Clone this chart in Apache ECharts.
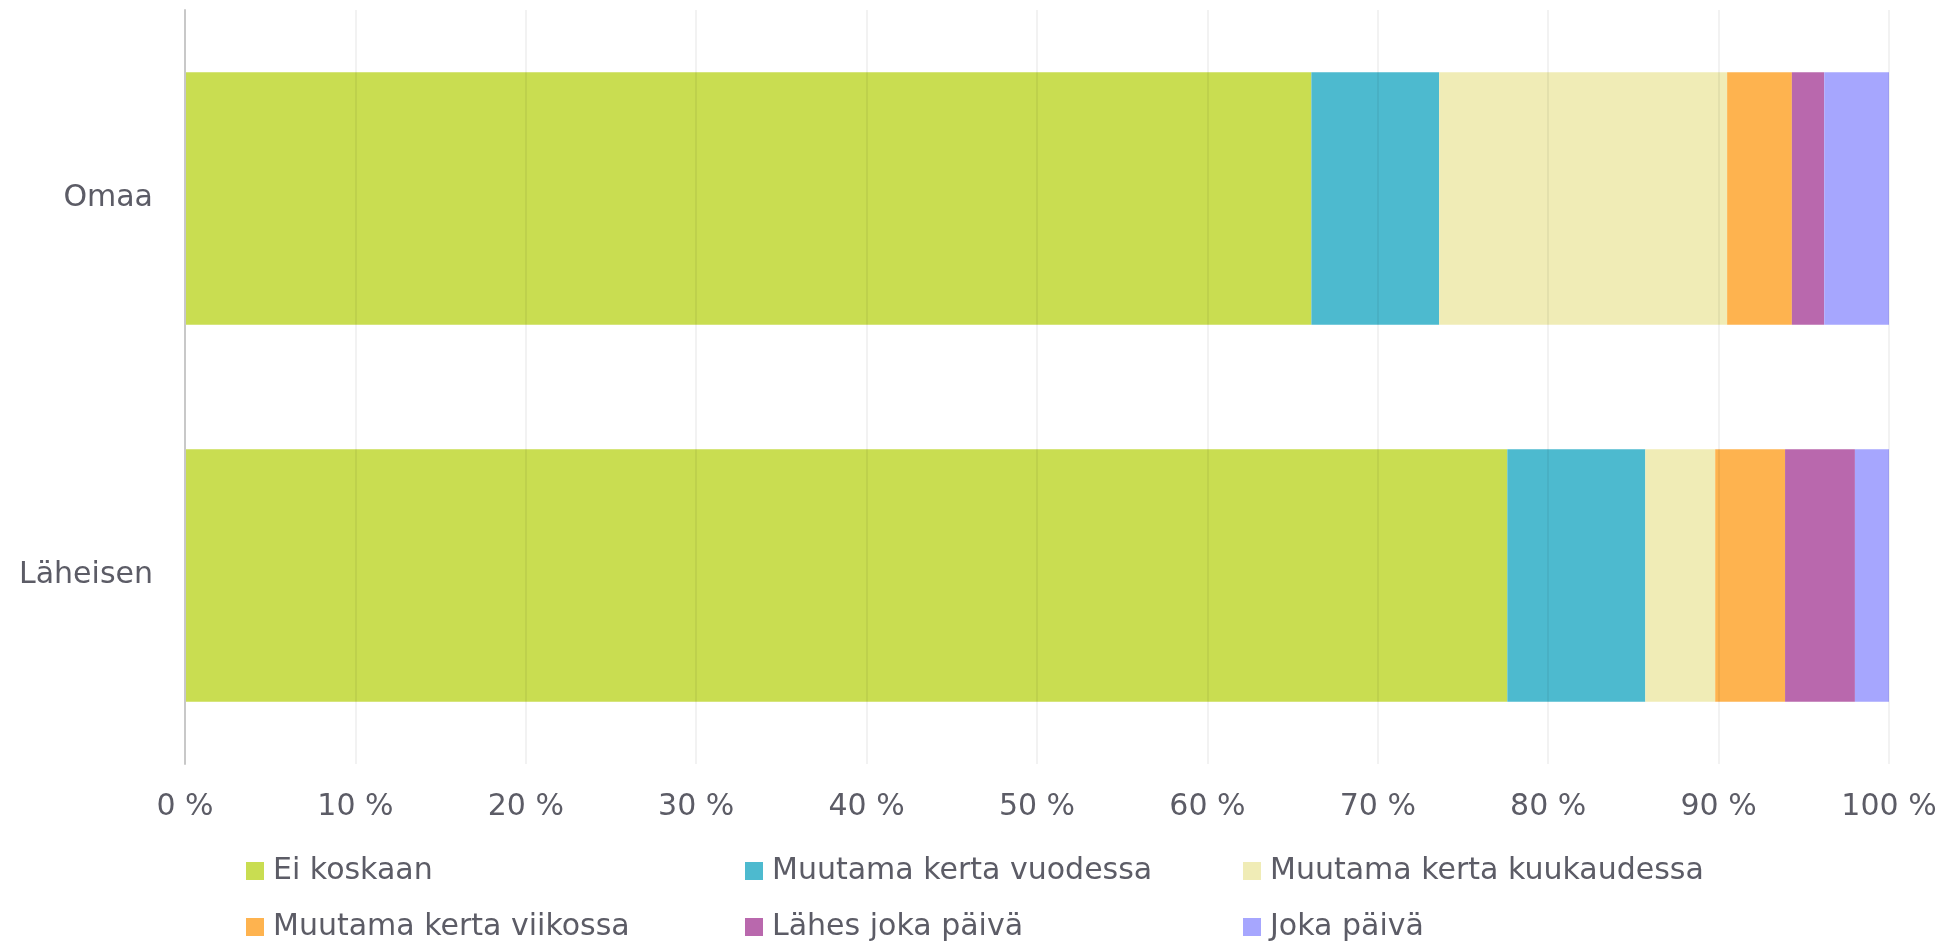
<!DOCTYPE html>
<html>
<head>
<meta charset="utf-8">
<script src="https://cdn.jsdelivr.net/npm/echarts@6/dist/echarts.min.js"></script>
<style>html,body{margin:0;padding:0;background:#fff}#c{width:1947px;height:942px}</style>
</head>
<body>
<div id="c"></div>
<script>
const categories = ['Omaa', 'Läheisen'];
const seriesNames = ['Ei koskaan', 'Muutama kerta vuodessa', 'Muutama kerta kuukaudessa', 'Muutama kerta viikossa', 'Lähes joka päivä', 'Joka päivä'];
const eiKoskaan = [66.1, 77.6];
const vuodessa = [7.5, 8.1];
const kuukaudessa = [16.9, 4.1];
const viikossa = [3.8, 4.1];
const lahesJokaPaiva = [1.9, 4.1];
const jokaPaiva = [3.8, 2.0];
const colors = ['#c9dd51', '#4dbacf', '#f0ecb6', '#feb34f', '#b968ad', '#a6a6fe'];

const values = [eiKoskaan, vuodessa, kuukaudessa, viikossa, lahesJokaPaiva, jokaPaiva];
const font = 'DejaVu Sans, Verdana, sans-serif';
const textColor = '#5c5c66';

const legendPos = [
  [246, 856], [745, 856], [1243, 856],
  [246, 912], [745, 912], [1243, 912]
];

const chart = echarts.init(document.getElementById('c'));
chart.setOption({
  animation: false,
  backgroundColor: '#fff',
  grid: { left: 185, right: 58, top: 10, bottom: 178, containLabel: false },
  xAxis: {
    type: 'value', min: 0, max: 100, interval: 10, z: 5,
    axisLine: { show: false },
    axisTick: { show: false },
    splitLine: { show: true, lineStyle: { color: 'rgba(0,0,0,0.07)', width: 1.5 } },
    axisLabel: { formatter: '{value} %', color: textColor, fontSize: 30, fontFamily: font, margin: 28 }
  },
  yAxis: {
    type: 'category', data: categories, inverse: true, z: 5,
    axisLine: { show: true, lineStyle: { color: '#c8c8c8', width: 2 } },
    axisTick: { show: false },
    axisLabel: { color: textColor, fontSize: 30, fontFamily: font, margin: 32 }
  },
  legend: seriesNames.map((n, i) => ({
    data: [n], left: legendPos[i][0], top: legendPos[i][1],
    icon: 'rect', itemWidth: 18, itemHeight: 18, padding: 0,
    textStyle: { color: textColor, fontSize: 30, fontFamily: font, padding: [0, 0, 0, 4] },
    selectedMode: false
  })),
  series: seriesNames.map((n, i) => ({
    name: n, type: 'bar', stack: 'total', data: values[i],
    barCategoryGap: '33%',
    itemStyle: { color: colors[i] },
    emphasis: { disabled: true }
  }))
});
</script>
</body>
</html>
